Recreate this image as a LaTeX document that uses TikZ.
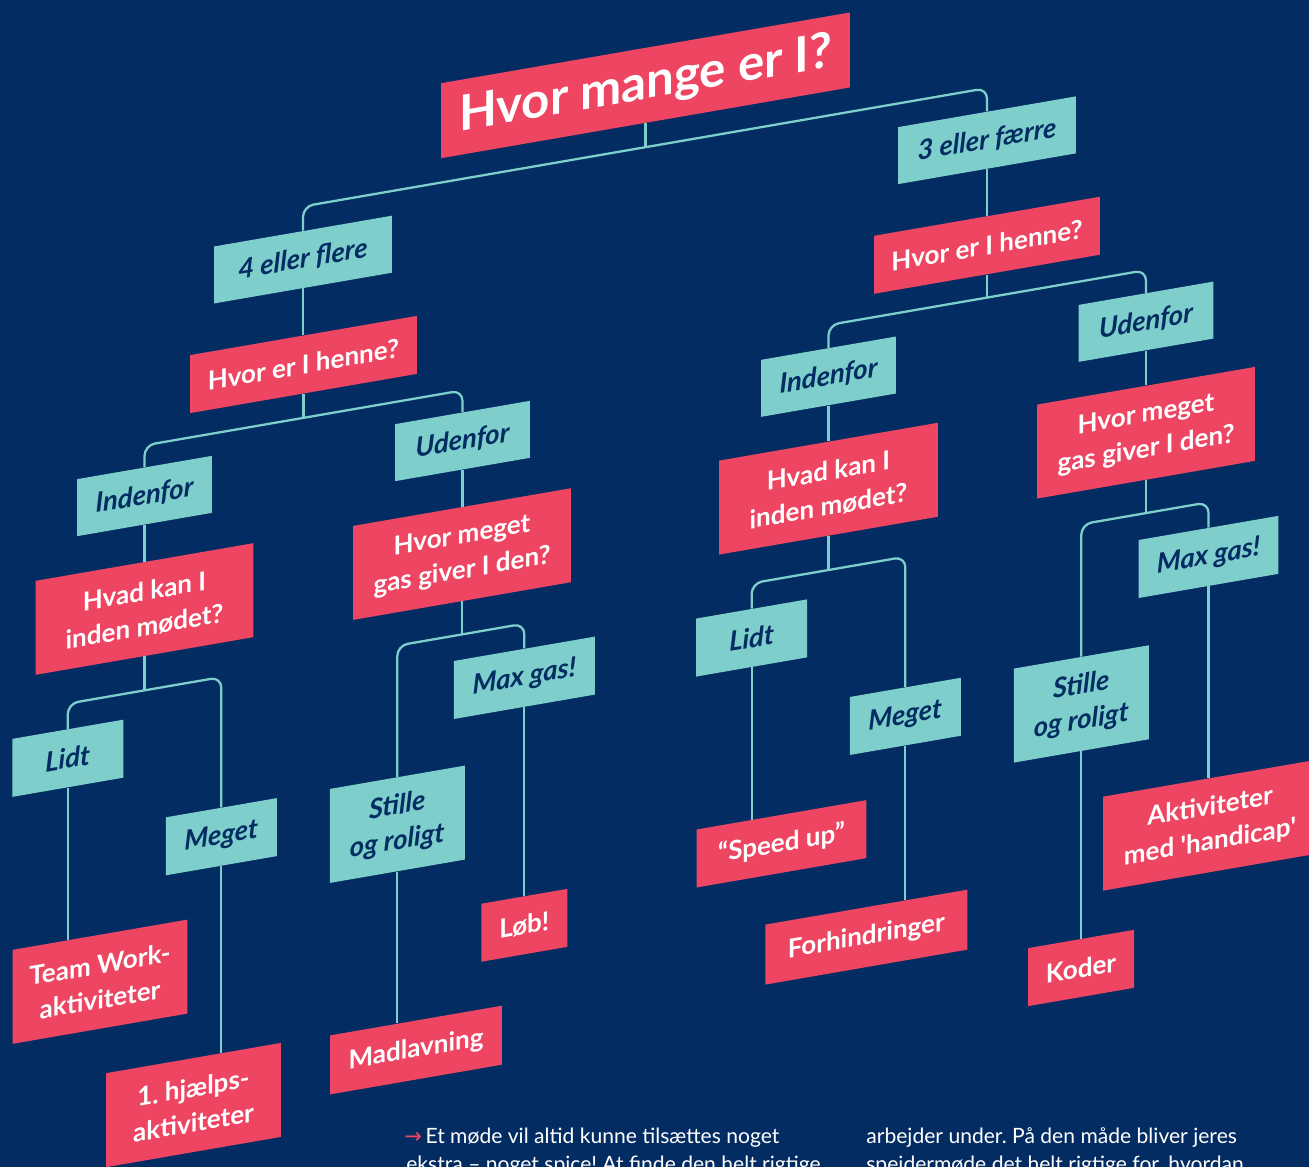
\documentclass[tikz,border=0pt]{standalone}
\usepackage{fontspec}
\setmainfont{Lato}
\newfontfamily\arrowfont{DejaVu Sans}
\frenchspacing

\definecolor{navy}{HTML}{032C62}
\definecolor{rose}{HTML}{EE4662}
\definecolor{mint}{HTML}{7ECFCB}

\tikzstyle{question} = [fill=rose, text=white, align=center, inner sep=0pt, transform shape,
  font=\bfseries\fontsize{14.8}{20}\selectfont]
\tikzstyle{answer} = [fill=mint, text=navy, align=center, inner sep=0pt, transform shape,
  font=\bfseries\itshape\fontsize{15.6}{20}\selectfont]
\tikzstyle{link} = [draw=mint, line width=1.3pt, rounded corners=6pt]
\tikzstyle{bodytext} = [text=white, inner sep=0pt, anchor=base west, font=\fontsize{12}{14}\selectfont]

\begin{document}
\begin{tikzpicture}[x=0.02cm, y=-0.02cm]
  \fill[navy] (0,0) rectangle (1309,1167);
  \clip (0,0) rectangle (1309,1167);

  \begin{scope}[yslant=0.173]
    % top
    \node[question, minimum width=8.18cm, minimum height=1.5cm, font=\bfseries\fontsize{28}{32}\selectfont] (main) at (645.5,197) {Hvor mange er I?};
    \node[answer, minimum width=3.56cm, minimum height=1.14cm] (flere) at (303,312) {4 eller flere};
    \node[answer, minimum width=3.56cm, minimum height=1.14cm] (faerre) at (987,311) {3 eller færre};
    \node[question, minimum width=4.54cm, minimum height=1.16cm] (hvorL) at (303.5,417) {Hvor er I henne?};
    \node[question, minimum width=4.52cm, minimum height=1.16cm] (hvorR) at (987,416) {Hvor er I henne?};

    % inde / ude
    \node[answer, minimum width=2.7cm, minimum height=1.14cm] (indeL) at (144.5,521) {Indenfor};
    \node[answer, minimum width=2.7cm, minimum height=1.14cm] (udeL) at (462.5,521) {Udenfor};
    \node[answer, minimum width=2.7cm, minimum height=1.14cm] (indeR) at (828.5,520) {Indenfor};
    \node[answer, minimum width=2.7cm, minimum height=1.14cm] (udeR) at (1146,520) {Udenfor};

    \node[question, minimum width=4.36cm, minimum height=1.88cm] (hvadL) at (144.5,634) {Hvad kan I\\inden mødet?};
    \node[question, minimum width=4.36cm, minimum height=1.88cm] (gasL) at (462,634) {Hvor meget\\gas giver I den?};
    \node[question, minimum width=4.38cm, minimum height=1.88cm] (hvadR) at (828.5,632) {Hvad kan I\\inden mødet?};
    \node[question, minimum width=4.36cm, minimum height=1.88cm] (gasR) at (1146,631) {Hvor meget\\gas giver I den?};

    % svar
    \node[answer, minimum width=2.22cm, minimum height=1.16cm] (lidtL) at (67.8,770) {Lidt};
    \node[answer, minimum width=2.22cm, minimum height=1.16cm] (megetL) at (221.3,875) {Meget};
    \node[answer, minimum width=2.7cm, minimum height=1.88cm] (stilleL) at (397.3,893) {Stille\\og roligt};
    \node[answer, minimum width=2.82cm, minimum height=1.16cm] (maxL) at (524.3,768.5) {Max gas!};
    \node[answer, minimum width=2.22cm, minimum height=1.16cm] (lidtR) at (751.7,768) {Lidt};
    \node[answer, minimum width=2.22cm, minimum height=1.16cm] (megetR) at (905.3,873) {Meget};
    \node[answer, minimum width=2.7cm, minimum height=1.88cm] (stilleR) at (1081.3,891) {Stille\\og roligt};
    \node[answer, minimum width=2.8cm, minimum height=1.16cm] (maxR) at (1208.5,766) {Max gas!};

    % aktiviteter
    \node[question, minimum width=3.5cm, minimum height=1.88cm] (team) at (100,999) {Team Work-\\aktiviteter};
    \node[question, minimum width=3.5cm, minimum height=1.88cm] (hjaelp) at (193.5,1138.5) {1. hjælps-\\aktiviteter};
    \node[question, minimum width=3.44cm, minimum height=1.18cm] (mad) at (416,1122) {Madlavning};
    \node[question, minimum width=1.72cm, minimum height=1.16cm] (lob) at (524.3,1016) {Løb!};
    \node[question, minimum width=3.4cm, minimum height=1.16cm] (speed) at (781.5,979) {“Speed up”};
    \node[question, minimum width=4.04cm, minimum height=1.2cm] (forh) at (866.3,1087) {Forhindringer};
    \node[question, minimum width=2.12cm, minimum height=1.16cm] (koder) at (1081,1155) {Koder};
    \node[question, minimum width=4.28cm, minimum height=1.88cm] (akt) at (1210,1034.5) {Aktiviteter\\med \textquotesingle handicap\textquotesingle};

    % forgreninger
    \path (main.south) ++(0,24) coordinate (mainbar);
    \draw[link] (main.south) -- (mainbar);
    \draw[link] (flere.north) |- (mainbar) -| (faerre.north);
    \path (hvorL.south) ++(0,24) coordinate (hvorLbar);
    \draw[link] (hvorL.south) -- (hvorLbar);
    \draw[link] (indeL.north) |- (hvorLbar) -| (udeL.north);
    \path (hvorR.south) ++(0,23) coordinate (hvorRbar);
    \draw[link] (hvorR.south) -- (hvorRbar);
    \draw[link] (indeR.north) |- (hvorRbar) -| (udeR.north);
    \path (hvadL.south) ++(0,34) coordinate (hvadLbar);
    \draw[link] (hvadL.south) -- (hvadLbar);
    \draw[link] (lidtL.north) |- (hvadLbar) -| (megetL.north);
    \path (gasL.south) ++(0,33) coordinate (gasLbar);
    \draw[link] (gasL.south) -- (gasLbar);
    \draw[link] (stilleL.north) |- (gasLbar) -| (maxL.north);
    \path (hvadR.south) ++(0,34) coordinate (hvadRbar);
    \draw[link] (hvadR.south) -- (hvadRbar);
    \draw[link] (lidtR.north) |- (hvadRbar) -| (megetR.north);
    \path (gasR.south) ++(0,33) coordinate (gasRbar);
    \draw[link] (gasR.south) -- (gasRbar);
    \draw[link] (stilleR.north) |- (gasRbar) -| (maxR.north);

    % lige streger
    \draw[link] (flere.south) -- (flere.south |- hvorL.north);
    \draw[link] (faerre.south) -- (faerre.south |- hvorR.north);
    \draw[link] (indeL.south) -- (indeL.south |- hvadL.north);
    \draw[link] (udeL.south) -- (udeL.south |- gasL.north);
    \draw[link] (indeR.south) -- (indeR.south |- hvadR.north);
    \draw[link] (udeR.south) -- (udeR.south |- gasR.north);
    \draw[link] (lidtL.south) -- (lidtL.south |- team.north);
    \draw[link] (megetL.south) -- (megetL.south |- hjaelp.north);
    \draw[link] (stilleL.south) -- (stilleL.south |- mad.north);
    \draw[link] (maxL.south) -- (maxL.south |- lob.north);
    \draw[link] (lidtR.south) -- (lidtR.south |- speed.north);
    \draw[link] (megetR.south) -- (megetR.south |- forh.north);
    \draw[link] (stilleR.south) -- (stilleR.south |- koder.north);
    \draw[link] (maxR.south) -- (maxR.south |- akt.north);
  \end{scope}

  % broedtekst
  \node[bodytext] (txtA) at (404,1143) {{\color{rose}\arrowfont →}\,Et møde vil altid kunne tilsættes noget};
  \node[bodytext] (txtB) at (406,1171) {ekstra – noget spice! At finde den helt rigtige};
  \node[bodytext] (txtC) at (866,1143) {arbejder under. På den måde bliver jeres};
  \node[bodytext] (txtD) at (866,1171) {spejdermøde det helt rigtige for, hvordan};
\end{tikzpicture}
\end{document}
